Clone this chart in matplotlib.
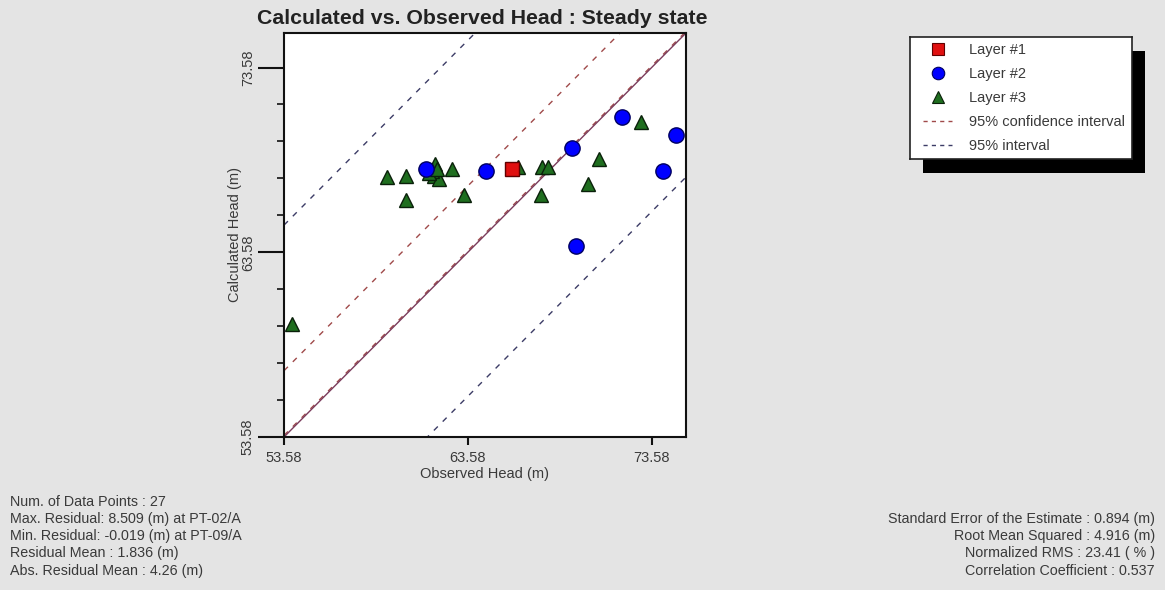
import numpy as np
import matplotlib
matplotlib.use("Agg")
import matplotlib.pyplot as plt
from matplotlib.lines import Line2D

plt.rcParams['font.family'] = ['Liberation Sans', 'DejaVu Sans']

# ---------------- data ----------------
layer1_obs = [65.98]
layer1_calc = [68.11]

layer2_obs = [71.95, 74.93, 69.24, 74.21, 69.46, 64.57, 61.31]
layer2_calc = [70.88, 69.94, 69.25, 67.98, 63.94, 67.97, 68.10]

layer3_obs = [73.00, 70.73, 70.11, 67.60, 67.93, 67.56, 66.32, 63.38, 62.71,
              61.81, 61.76, 61.99, 61.65, 61.48, 61.92, 60.22, 59.19, 60.22, 54.00]
layer3_calc = [70.65, 68.62, 67.30, 68.17, 68.17, 66.68, 68.22, 66.69, 68.07,
               68.35, 67.69, 67.53, 67.97, 67.86, 68.08, 67.71, 67.64, 66.41, 59.71]

residual_mean = 1.836
std_error = 0.894
rms = 4.916

axis_min, axis_max = 53.58, 75.45
major_ticks = [53.58, 63.58, 73.58]
minor_step = 2.0

legend_labels = ["Layer #1", "Layer #2", "Layer #3",
                 "95% confidence interval", "95% interval"]

stats_left = ["Num. of Data Points : 27",
              "Max. Residual: 8.509 (m) at PT-02/A",
              "Min. Residual: -0.019 (m) at PT-09/A",
              "Residual Mean : 1.836 (m)",
              "Abs. Residual Mean : 4.26 (m)"]
stats_right = ["Standard Error of the Estimate : 0.894 (m)",
               "Root Mean Squared : 4.916 (m)",
               "Normalized RMS : 23.41 ( % )",
               "Correlation Coefficient : 0.537"]

# ---------------- figure ----------------
W, H = 1165, 590
bg = '#e4e4e4'
txt = '#3a3a3a'
fig = plt.figure(figsize=(W / 100, H / 100), dpi=100, facecolor=bg)

def fx(px):
    return px / W

def fy(py):
    return 1 - py / H

ax = fig.add_axes([fx(284), fy(437), fx(686) - fx(284), fy(33) - fy(437)])
ax.set_facecolor('white')
ax.set_xlim(axis_min, axis_max)
ax.set_ylim(axis_min, axis_max)

xs = np.array([axis_min, axis_max])
c_one = '#7a3c5c'
c_ci = '#a04a4a'
c_int = '#3c3c66'
ci = 1.96 * std_error
pi = 1.96 * rms
dash = (0, (4, 5))
for off in (residual_mean + ci, residual_mean - ci):
    ax.plot(xs, xs + off, color=c_ci, lw=1.0, linestyle=dash, zorder=2)
for off in (residual_mean + pi, residual_mean - pi):
    ax.plot(xs, xs + off, color=c_int, lw=1.0, linestyle=dash, zorder=2)
ax.plot(xs, xs, color=c_one, lw=1.0, zorder=2.5)

ax.plot(layer3_obs, layer3_calc, linestyle='none', marker='^', ms=10.5,
        mfc='#1f6e1f', mec='#0a200a', mew=1.0, zorder=3)
ax.plot(layer2_obs, layer2_calc, linestyle='none', marker='o', ms=11,
        mfc='#0000ff', mec='#000060', mew=1.0, zorder=4)
ax.plot(layer1_obs, layer1_calc, linestyle='none', marker='s', ms=9.5,
        mfc='#e01010', mec='#600000', mew=1.0, zorder=3)

for s in ax.spines.values():
    s.set_linewidth(1.5)
    s.set_color('#111111')

fs = 10.5
ax.set_xticks(major_ticks)
ax.set_xticklabels([f"{v:.2f}" for v in major_ticks])
ax.set_yticks(major_ticks)
ax.set_yticklabels([f"{v:.2f}" for v in major_ticks])
minor_y = np.arange(axis_min, axis_max, minor_step)
ax.set_yticks(minor_y, minor=True)
ax.tick_params(axis='x', direction='out', length=6, width=1.5, pad=4,
               labelsize=fs, labelcolor=txt, color='#111111')
ax.tick_params(axis='y', which='major', direction='out', length=19, width=1.5,
               pad=2, labelsize=fs, labelcolor=txt, color='#111111',
               labelrotation=90)
ax.tick_params(axis='y', which='minor', direction='out', length=5, width=1.2,
               color='#111111')
for lab in ax.get_yticklabels():
    lab.set_va('center')

ax.set_xlabel("Observed Head (m)", fontsize=fs, color=txt)
ax.set_ylabel("Calculated Head (m)", fontsize=fs, color=txt)
ax.xaxis.set_label_coords((485 - 284) / 402, (437 - 467) / 404)
ax.yaxis.set_label_coords((242 - 284) / 402, 0.5)

fig.text(fx(482), fy(19), "Calculated vs. Observed Head : Steady state",
         ha='center', va='center', fontsize=15.3, fontweight='bold',
         color='#222222')

# ---------------- legend with shadow ----------------
lx0, ly0, lx1, ly1 = 910, 37, 1132, 159
sh = fig.add_axes([fx(lx0 + 13), fy(ly1 + 14), fx(lx1) - fx(lx0), fy(ly0) - fy(ly1)])
sh.set_facecolor('black')
sh.set_xticks([]); sh.set_yticks([])
for s in sh.spines.values():
    s.set_visible(False)
lg = fig.add_axes([fx(lx0), fy(ly1), fx(lx1) - fx(lx0), fy(ly0) - fy(ly1)])
lg.set_facecolor('white')
lg.set_xticks([]); lg.set_yticks([])
for s in lg.spines.values():
    s.set_linewidth(1.2)
    s.set_color('#222222')

handles = [
    Line2D([], [], linestyle='none', marker='s', ms=8, mfc='#e01010', mec='#600000', mew=0.8),
    Line2D([], [], linestyle='none', marker='o', ms=9, mfc='#0000ff', mec='#000060', mew=0.8),
    Line2D([], [], linestyle='none', marker='^', ms=9, mfc='#1f6e1f', mec='#0a200a', mew=0.8),
    Line2D([], [], color=c_ci, lw=1.0, linestyle=(0, (3, 3))),
    Line2D([], [], color=c_int, lw=1.0, linestyle=(0, (3, 3))),
]
leg = lg.legend(handles, legend_labels, loc='center left', bbox_to_anchor=(0.0, 0.5),
                frameon=False, fontsize=fs, labelspacing=0.68, handlelength=2.0,
                handletextpad=1.15, borderaxespad=0.5, labelcolor=txt)

# ---------------- statistics text ----------------
sfs = 10.3
left_y = [502, 519, 536, 553.5, 571]
for t, y in zip(stats_left, left_y):
    fig.text(fx(10), fy(y), t, ha='left', va='center', fontsize=sfs, color=txt)
right_y = [519, 536, 553.5, 571]
for t, y in zip(stats_right, right_y):
    fig.text(fx(1155), fy(y), t, ha='right', va='center', fontsize=sfs, color=txt)

fig.savefig('out.png', dpi=100, facecolor=bg)
